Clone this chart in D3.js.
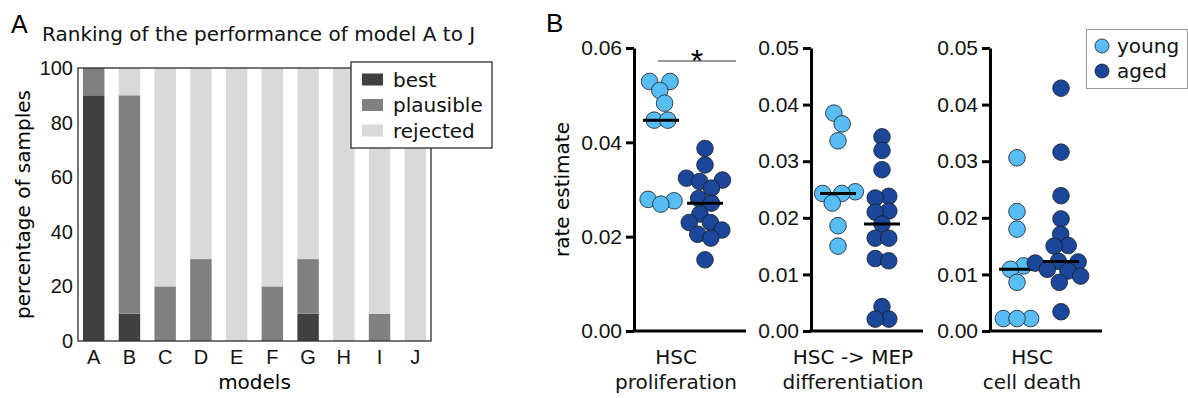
<!DOCTYPE html>
<html>
<head>
<meta charset="utf-8">
<title>model ranking and rate estimates</title>
<script src="https://d3js.org/d3.v7.min.js"></script>
<style>
  body { margin: 0; background: #fff; }
  svg { display: block; }
  .sans { font-family: "DejaVu Sans", Verdana, sans-serif; }
  .arial { font-family: "Liberation Sans", Arial, sans-serif; }
</style>
</head>
<body>
<svg id="chart" width="1188" height="398"></svg>
<script>

// ---- panel A data
var models    = ["A", "B", "C", "D", "E", "F", "G", "H", "I", "J"];
var best      = [90, 10,  0,  0,   0,  0, 10,   0,  0,   0];
var plausible = [10, 80, 20, 30,   0, 20, 20,   0, 10,   0];
var rejected  = [ 0, 10, 80, 70, 100, 80, 70, 100, 90, 100];
var rankKeys  = ["best", "plausible", "rejected"];
var rankColors = ["#404040", "#808080", "#d9d9d9"];
var yTicksA   = [0, 20, 40, 60, 80, 100];

// ---- panel B data
var rateLabels = [["HSC", "proliferation"], ["HSC -> MEP", "differentiation"], ["HSC", "cell death"]];
var rateMax    = [0.06, 0.05, 0.05];
var rateTicks  = [[0, 0.02, 0.04, 0.06], [0, 0.01, 0.02, 0.03, 0.04, 0.05], [0, 0.01, 0.02, 0.03, 0.04, 0.05]];
var groups     = ["young", "aged"];
var groupColors = ["#58bdf5", "#1b479b"];

var prolifYoung = [0.0529, 0.0529, 0.0510, 0.0483, 0.0447, 0.0447, 0.0279, 0.0276, 0.0269];
var prolifAged  = [0.0387, 0.0352, 0.0324, 0.0320, 0.0317, 0.0303, 0.0281, 0.0271,
                   0.0248, 0.0230, 0.0230, 0.0214, 0.0205, 0.0197, 0.0151];
var diffYoung   = [0.0385, 0.0366, 0.0336, 0.0246, 0.0243, 0.0243, 0.0226, 0.0186, 0.0150];
var diffAged    = [0.0343, 0.0319, 0.0285, 0.0238, 0.0235, 0.0212, 0.0210, 0.0189,
                   0.0164, 0.0164, 0.0128, 0.0124, 0.0043, 0.0021, 0.0021];
var deathYoung  = [0.0306, 0.0211, 0.0180, 0.0115, 0.0109, 0.0086, 0.0022, 0.0022, 0.0022];
var deathAged   = [0.0429, 0.0316, 0.0239, 0.0198, 0.0171, 0.0151, 0.0150, 0.0122,
                   0.0123, 0.0120, 0.0109, 0.0106, 0.0097, 0.0086, 0.0034];
var rateData = [[prolifYoung, prolifAged], [diffYoung, diffAged], [deathYoung, deathAged]];

var svg = d3.select("#chart");

// ================= panel A =================
var plotA = {left: 78, top: 68, right: 431, bottom: 341};

var xA = d3.scaleBand().domain(models)
    .range([plotA.left, plotA.right])
    .paddingInner(0.4).paddingOuter(0.14);
var yA = d3.scaleLinear().domain([0, 100]).range([plotA.bottom, plotA.top]);
var colorA = d3.scaleOrdinal().domain(rankKeys).range(rankColors);

var table = models.map(function (m, i) {
  return {model: m, best: best[i], plausible: plausible[i], rejected: rejected[i]};
});
var stacked = d3.stack().keys(rankKeys)(table);

var gA = svg.append("g").attr("class", "sans");

gA.selectAll("g.layer")
  .data(stacked)
  .enter().append("g")
  .attr("class", "layer")
  .attr("fill", function (d) { return colorA(d.key); })
  .selectAll("rect")
  .data(function (d) { return d; })
  .enter().append("rect")
  .attr("x", function (d) { return xA(d.data.model); })
  .attr("width", xA.bandwidth())
  .attr("y", function (d) { return yA(d[1]); })
  .attr("height", function (d) { return yA(d[0]) - yA(d[1]); });

gA.append("rect")
  .attr("x", plotA.left).attr("y", plotA.top)
  .attr("width", plotA.right - plotA.left).attr("height", plotA.bottom - plotA.top)
  .attr("fill", "none").attr("stroke", "#2b2b2b").attr("stroke-width", 1.3);

var axisLeftA = gA.append("g")
  .attr("transform", "translate(" + plotA.left + ",0)")
  .call(d3.axisLeft(yA).tickValues(yTicksA).tickSize(0).tickPadding(5));
var axisBottomA = gA.append("g")
  .attr("transform", "translate(0," + plotA.bottom + ")")
  .call(d3.axisBottom(xA).tickSize(0).tickPadding(9));
[axisLeftA, axisBottomA].forEach(function (a) {
  a.select(".domain").remove();
  a.selectAll("text").attr("font-family", null).attr("font-size", 20).attr("fill", "#111");
});

gA.append("text").attr("x", (plotA.left + plotA.right) / 2).attr("y", 389)
  .attr("text-anchor", "middle").attr("font-size", 20).text("models");
gA.append("text")
  .attr("transform", "translate(30," + (plotA.top + plotA.bottom) / 2 + ") rotate(-90)")
  .attr("text-anchor", "middle").attr("font-size", 20).text("percentage of samples");
gA.append("text").attr("x", 42).attr("y", 41).attr("font-size", 20).attr("fill", "#111")
  .text("Ranking of the performance of model A to J");
svg.append("text").attr("class", "arial").attr("x", 11).attr("y", 33)
  .attr("font-size", 25).text("A");

// legend A
var legA = gA.append("g").attr("transform", "translate(351,62)");
legA.append("rect").attr("width", 141).attr("height", 86)
  .attr("fill", "#fff").attr("stroke", "#2b2b2b").attr("stroke-width", 1.3);
var legItemA = legA.selectAll("g.item").data(rankKeys).enter().append("g")
  .attr("class", "item")
  .attr("transform", function (d, i) { return "translate(0," + (17.5 + i * 25.5) + ")"; });
legItemA.append("rect").attr("x", 11).attr("y", -6).attr("width", 21).attr("height", 12)
  .attr("fill", function (d) { return colorA(d); });
legItemA.append("text").attr("x", 42).attr("y", 7).attr("font-size", 20).attr("fill", "#111")
  .text(function (d) { return d; });

// ================= panel B =================
var axisXs = [634, 811, 990];
var axisLen = 112;
var yB0 = 331, yB1 = 48;
var dotR = 8.3;

svg.append("text").attr("class", "arial").attr("x", 546).attr("y", 32)
  .attr("font-size", 26).text("B");
svg.append("text").attr("class", "sans")
  .attr("transform", "translate(569," + (yB0 + yB1) / 2 + ") rotate(-90)")
  .attr("text-anchor", "middle").attr("font-size", 20).text("rate estimate");

// little beeswarm: y fixed to the value, x pushed apart by collisions
function swarm(values, cx, y) {
  var nodes = values.map(function (v, i) {
    return {v: v, y: y(v), fy: y(v), x: cx + (i % 2 ? 1 : -1) * (i % 4)};
  });
  var sim = d3.forceSimulation(nodes)
    .force("x", d3.forceX(cx).strength(0.1))
    .force("collide", d3.forceCollide(6.8).iterations(3))
    .stop();
  for (var k = 0; k < 300; k++) sim.tick();
  return nodes;
}

rateData.forEach(function (pair, p) {
  var g = svg.append("g").attr("transform", "translate(" + axisXs[p] + ",0)");
  var y = d3.scaleLinear().domain([0, rateMax[p]]).range([yB0, yB1]);
  var x = d3.scalePoint().domain(groups).range([27, 71]);

  var yAxis = g.append("g").attr("class", "arial")
    .call(d3.axisLeft(y).tickValues(rateTicks[p]).tickFormat(d3.format(".2f"))
      .tickSizeInner(8).tickSizeOuter(0).tickPadding(4));
  yAxis.select(".domain").attr("stroke", "#000").attr("stroke-width", 3);
  yAxis.selectAll(".tick line").attr("stroke", "#000").attr("stroke-width", 3);
  yAxis.selectAll("text").attr("font-family", null).attr("font-size", 21).attr("fill", "#111");

  g.append("line").attr("x1", -1.5).attr("x2", axisLen).attr("y1", yB0).attr("y2", yB0)
    .attr("stroke", "#000").attr("stroke-width", 3);

  var lab = g.append("text").attr("class", "sans").attr("text-anchor", "middle")
    .attr("font-size", 20).attr("fill", "#111");
  rateLabels[p].forEach(function (t, j) {
    lab.append("tspan").attr("x", 42).attr("y", 364 + j * 24.5).text(t);
  });

  pair.forEach(function (vals, gi) {
    var cx = x(groups[gi]);
    var nodes = swarm(vals, cx, y);
    g.append("g").selectAll("circle").data(nodes).enter().append("circle")
      .attr("cx", function (d) { return d.x; })
      .attr("cy", function (d) { return d.y; })
      .attr("r", dotR)
      .attr("fill", groupColors[gi])
      .attr("stroke", "#1a1a1a").attr("stroke-width", 0.8);
    var med = d3.median(vals);
    g.append("line").attr("x1", cx - 18).attr("x2", cx + 18)
      .attr("y1", y(med)).attr("y2", y(med))
      .attr("stroke", "#000").attr("stroke-width", 3);
  });

  if (p === 0) {
    g.append("line").attr("x1", x("young") - 3).attr("x2", x("aged") + 31)
      .attr("y1", 61).attr("y2", 61).attr("stroke", "#333").attr("stroke-width", 1.2);
    g.append("text").attr("class", "arial").attr("x", (x("young") + x("aged")) / 2 + 14)
      .attr("y", 71.5).attr("text-anchor", "middle").attr("font-size", 32).text("*");
  }
});

// legend B
var legB = svg.append("g").attr("class", "sans").attr("transform", "translate(1086,29)");
legB.append("rect").attr("x", 0.5).attr("y", 0.5).attr("width", 101).attr("height", 59)
  .attr("fill", "#fff").attr("stroke", "#9a9a9a").attr("stroke-width", 1);
var legItemB = legB.selectAll("g.item").data(groups).enter().append("g")
  .attr("class", "item")
  .attr("transform", function (d, i) { return "translate(0," + (17 + i * 25) + ")"; });
legItemB.append("circle").attr("cx", 16).attr("cy", 0).attr("r", 7)
  .attr("fill", function (d, i) { return groupColors[i]; })
  .attr("stroke", "#1a1a1a").attr("stroke-width", 0.8);
legItemB.append("text").attr("x", 31).attr("y", 7).attr("font-size", 20).attr("fill", "#111")
  .text(function (d) { return d; });

</script>
</body>
</html>
